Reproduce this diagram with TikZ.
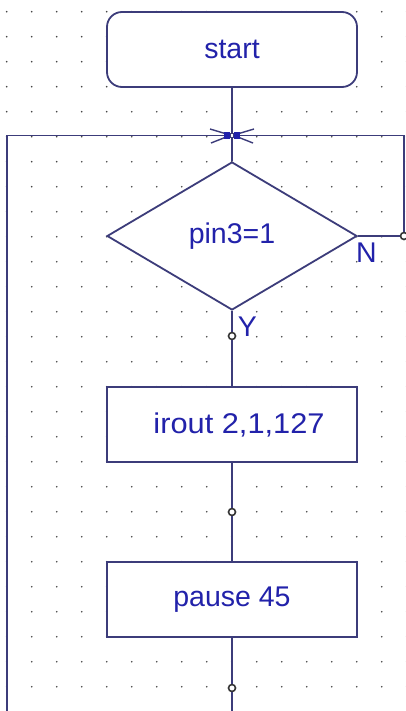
\documentclass[tikz,border=0pt]{standalone}
\usepackage{fontspec}
\setmainfont{Liberation Sans}
\usetikzlibrary{shapes.geometric}
\definecolor{ln}{RGB}{60,60,122}
\definecolor{tx}{RGB}{34,34,170}
\definecolor{dt}{RGB}{70,70,70}
\begin{document}
\begin{tikzpicture}[x=1pt,y=-1pt,
  every node/.style={font=\fontsize{28.5}{32}\selectfont, text=tx},
  box/.style={draw=ln, line width=1.8pt, fill=white, minimum width=250pt, minimum height=75pt, inner sep=0pt},
  term/.style={box, rounded corners=15pt},
  dec/.style={draw=ln, line width=1.8pt, fill=white, diamond, minimum width=250pt, minimum height=148pt, inner sep=0pt},
  wire/.style={draw=ln, line width=1.8pt},
  pin/.style={circle, draw=black!80, fill=white, line width=1.6pt, minimum size=7pt, inner sep=0pt},
  tick/.style={draw=ln, line width=1.4pt},
  lab/.style={inner sep=0pt}]
\useasboundingbox (0,0) rectangle (406,711);
\fill[white] (0,0) rectangle (406,711);
\foreach \i in {0,...,16}{\foreach \j in {0,...,27}{\fill[dt] (6.7+25*\i, 11.7+25*\j) circle (0.9pt);}}
% nodes
\node[term] (start) at (232,49.5) {start};
\node[dec] (d) at (232,236) {pin3=1};
\node[box] (ir) at (232,424.5) {\hspace*{14pt}\scalebox{1.08}[1]{irout 2,1,127}};
\node[box] (pz) at (232,599.5) {pause 45};
\node[pin] (p1) at (232,336) {};
\node[pin] (p2) at (232,512) {};
\node[pin] (p3) at (232,688) {};
\node[pin] (p4) at (404,236) {};
\coordinate (j) at (232,135.5);
\coordinate (tl) at (7,135.5);
\coordinate (tr) at (404,135.5);
\coordinate (bl) at (7,711);
\coordinate (bot) at (232,711);
% connectors
\draw[wire] (start) -- (d);
\draw[wire] (d) -- (p1) -- (ir);
\draw[wire] (ir) -- (p2) -- (pz);
\draw[wire] (pz) -- (p3) -- (bot);
\draw[wire] (d.east) -- (p4) -- (tr) -- (j);
\draw[wire] (bl) -- (tl) -- (j);
% junction mark
\draw[tick] ([shift={(-22,-6.5)}]j) -- ([shift={(-7,-2)}]j);
\draw[tick] ([shift={(-21,7.5)}]j) -- ([shift={(-7,2)}]j);
\draw[tick] ([shift={(22,-6.5)}]j) -- ([shift={(7,-2)}]j);
\draw[tick] ([shift={(21,7.5)}]j) -- ([shift={(7,2)}]j);
\fill[tx] ([shift={(-8,-3.5)}]j) rectangle ([shift={(-2,3.5)}]j);
\fill[tx] ([shift={(2,-3.5)}]j) rectangle ([shift={(8,3.5)}]j);
\draw[ln, fill=white, line width=0.8pt] ([shift={(-1.8,-1.8)}]j) rectangle ([shift={(1.8,1.8)}]j);
% labels
\node[lab] (ny) at (247.5,327) {Y};
\node[lab] (nn) at (366.5,253) {N};
\end{tikzpicture}
\end{document}
